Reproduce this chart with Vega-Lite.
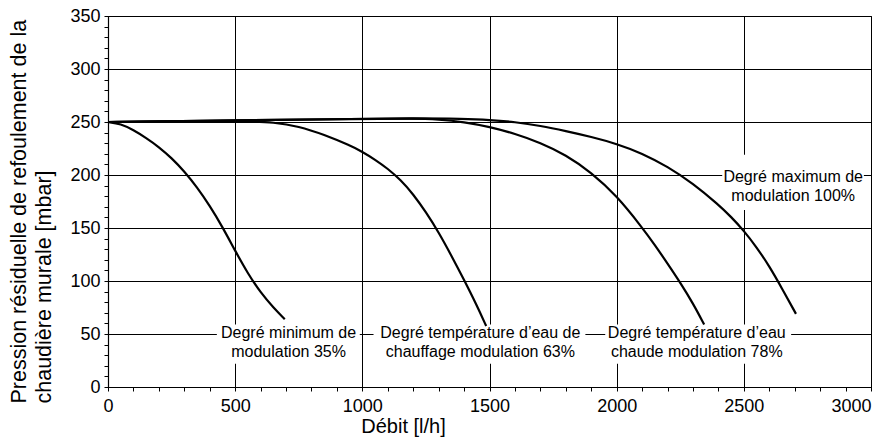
{
  "$schema": "https://vega.github.io/schema/vega-lite/v6.json",
  "width": 763,
  "height": 371,
  "autosize": "none",
  "padding": {"left": 108, "top": 16, "right": 18, "bottom": 54},
  "background": "white",
  "config": {
    "view": {"stroke": "black", "strokeWidth": 1},
    "font": "Liberation Sans",
    "axis": {"labelFont": "Liberation Sans", "titleFont": "Liberation Sans", "labelColor": "black", "titleColor": "black", "titleFontWeight": "normal", "domainColor": "black", "domainWidth": 1.2, "tickColor": "black", "tickWidth": 1, "tickSize": 4, "gridColor": "black", "gridWidth": 1, "labelOverlap": false, "labelFlush": false}
  },
  "datasets": {
    "curves": [
      {"s": "35", "x": 0, "y": 250}, {"s": "35", "x": 50, "y": 248.3}, {"s": "35", "x": 100, "y": 242.5}, {"s": "35", "x": 150, "y": 235}, {"s": "35", "x": 200, "y": 226.5}, {"s": "35", "x": 250, "y": 216}, {"s": "35", "x": 300, "y": 203.5}, {"s": "35", "x": 350, "y": 188.5}, {"s": "35", "x": 400, "y": 171}, {"s": "35", "x": 450, "y": 151}, {"s": "35", "x": 500, "y": 128.5}, {"s": "35", "x": 550, "y": 107}, {"s": "35", "x": 600, "y": 89}, {"s": "35", "x": 650, "y": 75}, {"s": "35", "x": 695, "y": 64},
      {"s": "63", "x": 0, "y": 250}, {"s": "63", "x": 200, "y": 250.5}, {"s": "63", "x": 400, "y": 251}, {"s": "63", "x": 550, "y": 250.6}, {"s": "63", "x": 650, "y": 249.8}, {"s": "63", "x": 750, "y": 246}, {"s": "63", "x": 850, "y": 238}, {"s": "63", "x": 950, "y": 228}, {"s": "63", "x": 1000, "y": 222}, {"s": "63", "x": 1050, "y": 214.5}, {"s": "63", "x": 1100, "y": 206}, {"s": "63", "x": 1150, "y": 195.5}, {"s": "63", "x": 1200, "y": 182}, {"s": "63", "x": 1250, "y": 165}, {"s": "63", "x": 1300, "y": 146}, {"s": "63", "x": 1350, "y": 124}, {"s": "63", "x": 1400, "y": 101}, {"s": "63", "x": 1450, "y": 77}, {"s": "63", "x": 1487, "y": 57.5},
      {"s": "78", "x": 0, "y": 250}, {"s": "78", "x": 500, "y": 251.5}, {"s": "78", "x": 1000, "y": 253}, {"s": "78", "x": 1200, "y": 253.3}, {"s": "78", "x": 1300, "y": 252.5}, {"s": "78", "x": 1400, "y": 250}, {"s": "78", "x": 1500, "y": 245.5}, {"s": "78", "x": 1600, "y": 239}, {"s": "78", "x": 1700, "y": 230.5}, {"s": "78", "x": 1800, "y": 219}, {"s": "78", "x": 1900, "y": 202.5}, {"s": "78", "x": 2000, "y": 180.5}, {"s": "78", "x": 2100, "y": 150.5}, {"s": "78", "x": 2150, "y": 134}, {"s": "78", "x": 2200, "y": 116.5}, {"s": "78", "x": 2250, "y": 98.5}, {"s": "78", "x": 2300, "y": 79}, {"s": "78", "x": 2344, "y": 59},
      {"s": "100", "x": 0, "y": 250}, {"s": "100", "x": 500, "y": 251.5}, {"s": "100", "x": 1000, "y": 253}, {"s": "100", "x": 1200, "y": 253.5}, {"s": "100", "x": 1400, "y": 253}, {"s": "100", "x": 1500, "y": 252}, {"s": "100", "x": 1600, "y": 250}, {"s": "100", "x": 1700, "y": 246.5}, {"s": "100", "x": 1800, "y": 241.5}, {"s": "100", "x": 1900, "y": 236}, {"s": "100", "x": 2000, "y": 229.5}, {"s": "100", "x": 2100, "y": 220.5}, {"s": "100", "x": 2200, "y": 208}, {"s": "100", "x": 2300, "y": 192}, {"s": "100", "x": 2400, "y": 172}, {"s": "100", "x": 2450, "y": 160.5}, {"s": "100", "x": 2500, "y": 147.5}, {"s": "100", "x": 2550, "y": 132}, {"s": "100", "x": 2600, "y": 114}, {"s": "100", "x": 2650, "y": 93}, {"s": "100", "x": 2705, "y": 69}
    ],
    "boxes": [
      {"x": 428, "xe": 990, "y": 22, "ye": 59},
      {"x": 1044, "xe": 1877, "y": 22, "ye": 59},
      {"x": 1955, "xe": 2686, "y": 22, "ye": 59},
      {"x": 2415, "xe": 2972, "y": 167, "ye": 219}
    ],
    "labels": [
      {"x": 710, "y": 51, "text": "Degré minimum de"},
      {"x": 710, "y": 33, "text": "modulation 35%"},
      {"x": 1464, "y": 51, "text": "Degré température d’eau de"},
      {"x": 1464, "y": 33, "text": "chauffage modulation 63%"},
      {"x": 2315, "y": 51, "text": "Degré température d’eau"},
      {"x": 2315, "y": 33, "text": "chaude modulation 78%"},
      {"x": 2694, "y": 198, "text": "Degré maximum de"},
      {"x": 2694, "y": 180, "text": "modulation 100%"}
    ]
  },
  "encoding": {
    "x": {
      "field": "x", "type": "quantitative",
      "scale": {"domain": [0, 3000], "nice": false, "zero": false},
      "axis": {
        "title": "Débit [l/h]",
        "values": [0,100,200,300,400,500,600,700,800,900,1000,1100,1200,1300,1400,1500,1600,1700,1800,1900,2000,2100,2200,2300,2400,2500,2600,2700,2800,2900,3000],
        "format": "d",
        "labelExpr": "datum.value % 500 === 0 ? datum.label : ''",
        "labelAlign": {"condition": {"test": "datum.value === 3000", "value": "right"}, "value": "center"},
        "gridOpacity": {"condition": {"test": "datum.value % 500 === 0", "value": 1}, "value": 0},
        "labelFontSize": 18,
        "labelPadding": 6,
        "titleFontSize": 20,
        "titleX": 295,
        "titleY": 45,
        "titleBaseline": "alphabetic",
        "titleAlign": "center"
      }
    },
    "y": {
      "field": "y", "type": "quantitative",
      "scale": {"domain": [0, 350], "nice": false, "zero": false},
      "axis": {
        "title": ["Pression résiduelle de refoulement de la", "chaudière murale [mbar]"],
        "values": [0,10,20,30,40,50,60,70,80,90,100,110,120,130,140,150,160,170,180,190,200,210,220,230,240,250,260,270,280,290,300,310,320,330,340,350],
        "format": "d",
        "labelExpr": "datum.value % 50 === 0 ? datum.label : ''",
        "gridOpacity": {"condition": {"test": "datum.value % 50 === 0", "value": 1}, "value": 0},
        "labelFontSize": 18,
        "labelPadding": 4,
        "titleFontSize": 21.5,
        "titleAngle": -90,
        "titleAlign": "left",
        "titleBaseline": "alphabetic",
        "titleLineHeight": 25,
        "titleX": -83,
        "titleY": 387
      }
    }
  },
  "layer": [
    {
      "data": {"name": "boxes"},
      "mark": {"type": "rect", "fill": "white", "strokeWidth": 0},
      "encoding": {"x2": {"field": "xe"}, "y2": {"field": "ye"}}
    },
    {
      "data": {"name": "curves"},
      "mark": {"type": "line", "interpolate": "basis", "color": "black", "strokeWidth": 2.2},
      "encoding": {"detail": {"field": "s", "type": "nominal"}}
    },
    {
      "data": {"name": "labels"},
      "mark": {"type": "text", "fontSize": 16, "font": "Liberation Sans", "color": "black", "baseline": "middle", "align": "center"},
      "encoding": {"text": {"field": "text", "type": "nominal"}}
    }
  ]
}
